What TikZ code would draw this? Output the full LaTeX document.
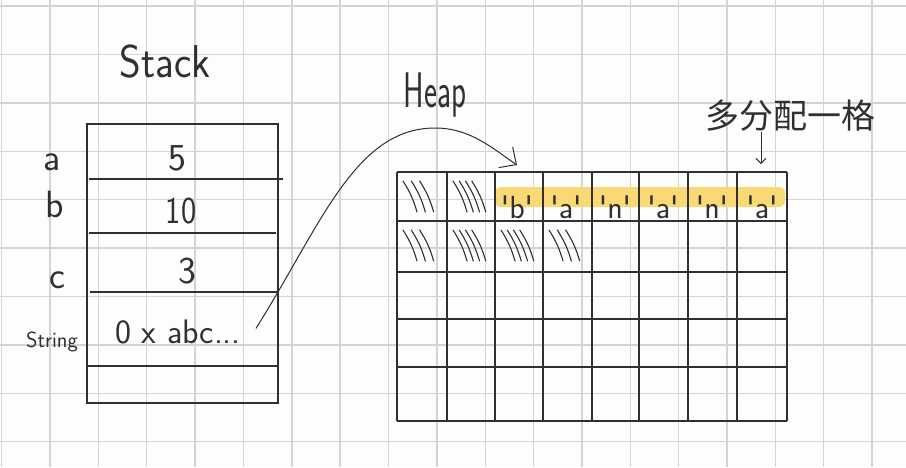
\documentclass[tikz,border=0pt]{standalone}
\usepackage{fontspec}
\newfontfamily\cjkfont{Noto Sans CJK SC}
\usepackage{tikz}
\usetikzlibrary{arrows.meta}

\definecolor{paper}{RGB}{253,253,253}
\definecolor{gridgray}{RGB}{212,212,212}
\definecolor{ink}{RGB}{48,48,48}
\definecolor{marker}{RGB}{248,217,118}

\begin{document}
\begin{tikzpicture}[x=1pt,y=-1pt,
    line/.style={draw=ink, line width=1.2pt},
    hand/.style={font=\sffamily\fontsize{38}{40}\selectfont, text=ink, inner sep=0pt, anchor=base},
    cellchar/.style={hand, font=\sffamily\fontsize{32}{34}\selectfont},
    hatch/.style={draw=ink, line width=1.1pt, line cap=round}]
        \fill [paper] (0,0) rectangle (906,467);
        \useasboundingbox (0,0) rectangle (906,467);
        % paper grid
        \foreach \k in {0,...,18}
          \draw [gridgray, line width=1.4pt] (1.7+48.35*\k,0) -- ++(0,467);
        \foreach \k in {0,...,9}
          \draw [gridgray, line width=1.4pt] (0,6+48.4*\k) -- ++(906,0);
        %
        % stack
        \node [hand, font=\sffamily\fontsize{46}{48}\selectfont, xscale=0.9] (stack) at (165,77) {Stack};
        \draw [line] (87,124) rectangle (278,403);
        \draw [line] (89,179) -- (283,179);
        \draw [line] (89,233) -- (276,233);
        \draw [line] (90,292) -- (277,292);
        \draw [line] (87,366) -- (277,366);
        \node [hand] (vara) at (52,170) {a};
        \node [hand] (varb) at (55,217) {b};
        \node [hand] (varc) at (57,288) {c};
        \node [hand, font=\sffamily\fontsize{22}{24}\selectfont] (vars) at (52,347) {String};
        \node [hand] (vala) at (177,170) {5};
        \node [hand, xscale=0.85] (valb) at (181,223) {10};
        \node [hand] (valc) at (187,283) {3};
        \node [hand, font=\sffamily\fontsize{34}{36}\selectfont] (ptr) at (178,343) {0 x abc...};
        %
        % heap
        \node [hand, font=\sffamily\fontsize{50}{52}\selectfont, xscale=0.62] (heap) at (435,107) {Heap};
        \fill [marker, rounded corners=6pt] (495,187) rectangle (785,207);
        \foreach \x in {397,447,495,543,592,639,688,737,787}
          \draw [line] (\x,172) -- (\x,421);
        \foreach \y in {172,221,272,319,367,421}
          \draw [line] (397,\y) -- (787,\y);
        \foreach \x/\c [count=\i] in {517/b,566/a,615/n,663/a,712/n,762/a}
          \node [cellchar] (ch\i) at (\x,218) {\textquotesingle\c\textquotesingle};
        % used cells
        \foreach \cx/\cy/\n in {397/172/3, 447/172/4, 397/221/3, 447/221/4, 495/221/4, 543/221/3}
          \foreach \k in {1,...,\n}
            \draw [hatch] (\cx+6+25*\k/\n-25/\n,\cy+9) to[bend left=8] ++(14,31);
        %
        % pointer into the heap
        \coordinate (bslot) at (517,165);
        \draw [line, line width=1pt, -{Straight Barb[length=13pt,width=25pt]}]
        ([xshift=15pt,yshift=3pt]ptr.east) .. controls (321,225) and (355,128) .. (435,128)
        .. controls (470,128) and (492,148) .. (bslot);
        %
        % one extra cell
        \node [text=ink, font=\cjkfont\fontsize{34}{36}\selectfont, inner sep=0pt] (note) at (790,116) {多分配一格};
        \coordinate (aslot) at (761,164);
        \draw [line, line width=1pt, -{Straight Barb[length=5pt,width=10pt]}] (note.south -| aslot) -- (aslot);
      \end{tikzpicture}
\end{document}
